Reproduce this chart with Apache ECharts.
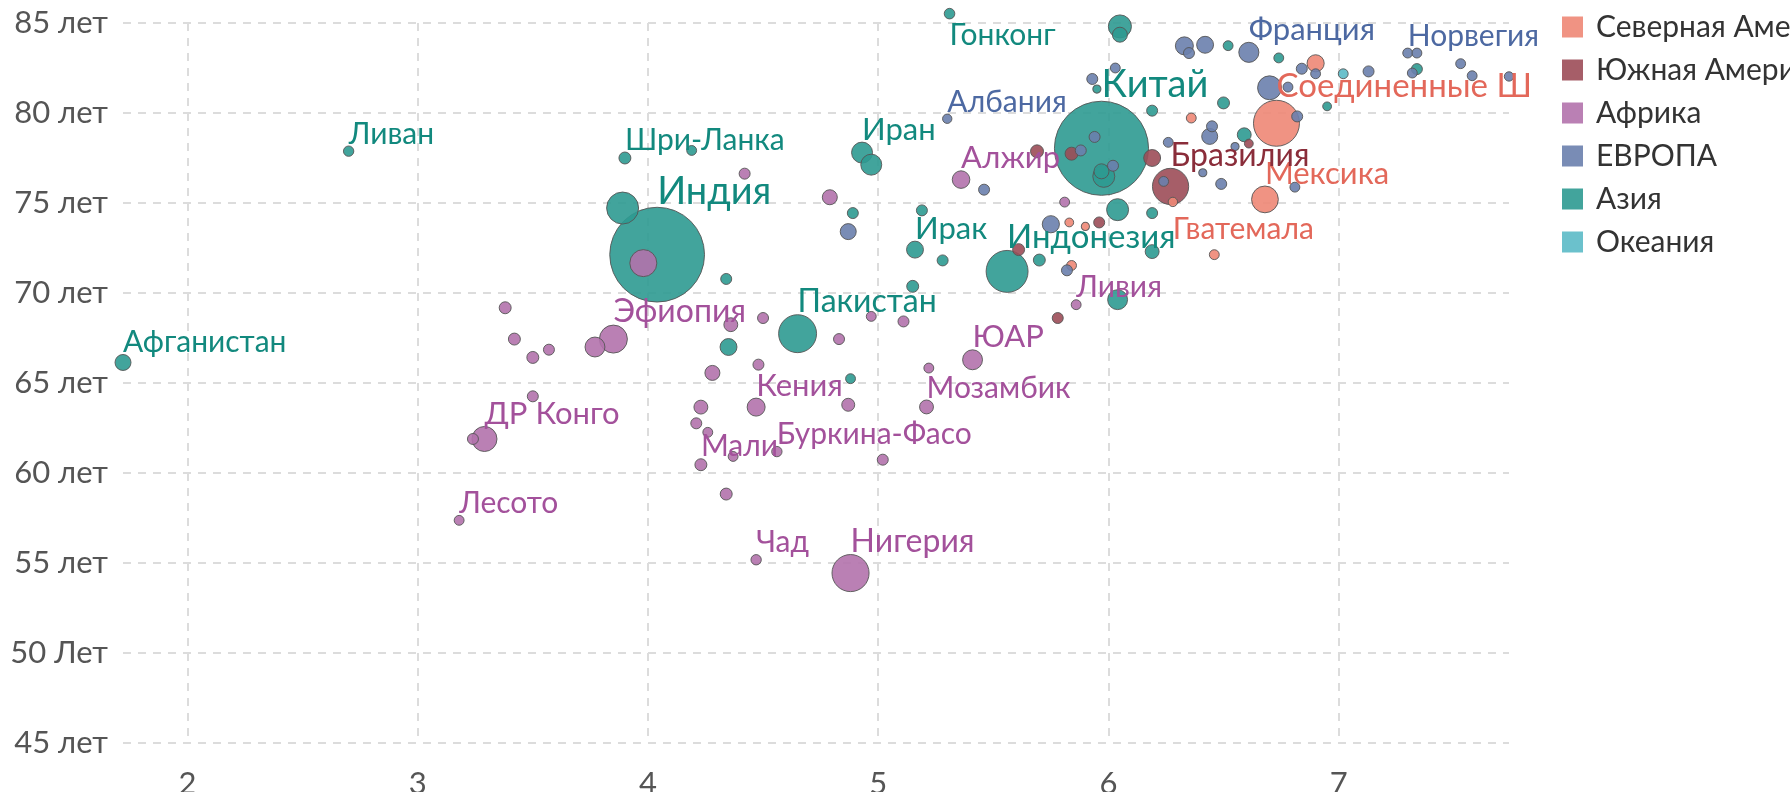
<!DOCTYPE html>
<html>
<head>
<meta charset="utf-8">
<title>Продолжительность жизни</title>
<script src="https://cdn.jsdelivr.net/npm/echarts@6/dist/echarts.min.js"></script>
<style>
  html, body { margin: 0; padding: 0; background: #fff; }
  #chart { width: 1790px; height: 792px; }
</style>
</head>
<body>
<div id="chart"></div>
<script>
// [x, продолжительность жизни, население (млн), подпись]
var northAmerica = [
  [6.73, 79.43, 306, 'Соединенные Штаты'],
  [6.68, 75.20, 90, 'Мексика'],
  [6.90, 82.76, 30, ''],
  [6.28, 75.06, 5, 'Гватемала'],
  [6.36, 79.72, 6, ''],
  [6.46, 72.13, 6, ''],
  [5.83, 73.92, 4, ''],
  [5.84, 71.53, 6, ''],
  [5.90, 73.70, 3, '']
];
var southAmerica = [
  [6.27, 75.92, 180, 'Бразилия'],
  [6.19, 77.50, 29, ''],
  [5.84, 77.74, 14, ''],
  [5.69, 77.87, 14, ''],
  [6.61, 78.30, 4, ''],
  [5.96, 73.92, 8.5, ''],
  [5.78, 68.61, 8.5, ''],
  [5.61, 72.41, 11, '']
];
var africa = [
  [4.88, 54.44, 190, 'Нигерия'],
  [3.85, 67.44, 100, 'Эфиопия'],
  [3.98, 71.66, 92, ''],
  [3.77, 67.00, 44, ''],
  [3.29, 61.89, 77, 'ДР Конго'],
  [3.24, 61.89, 8.5, ''],
  [3.18, 57.37, 6, 'Лесото'],
  [3.38, 69.18, 11, ''],
  [3.42, 67.44, 11, ''],
  [3.50, 66.42, 11, ''],
  [3.57, 66.85, 8.5, ''],
  [3.50, 64.26, 8.5, ''],
  [4.42, 76.63, 8.5, ''],
  [4.79, 75.32, 21, ''],
  [5.36, 76.30, 32, 'Алжир'],
  [5.81, 75.05, 6, ''],
  [4.50, 68.61, 8.5, ''],
  [4.36, 68.24, 17, ''],
  [4.28, 65.56, 21, ''],
  [4.48, 66.02, 8.5, ''],
  [4.47, 63.66, 34, 'Кения'],
  [4.23, 63.66, 17, ''],
  [4.21, 62.76, 8.5, ''],
  [4.26, 62.26, 6, ''],
  [4.23, 60.46, 11, 'Мали'],
  [4.37, 60.92, 6, ''],
  [4.34, 58.83, 11, ''],
  [4.56, 61.19, 7, 'Буркина-Фасо'],
  [4.47, 55.18, 7, 'Чад'],
  [4.83, 67.44, 8.5, ''],
  [4.97, 68.70, 6, ''],
  [5.11, 68.42, 8.5, ''],
  [4.87, 63.79, 14, ''],
  [5.02, 60.74, 8.5, ''],
  [5.41, 66.29, 44, 'ЮАР'],
  [5.22, 65.83, 6, ''],
  [5.21, 63.67, 17, 'Мозамбик'],
  [5.86, 69.35, 6, 'Ливия']
];
var europe = [
  [6.61, 83.37, 45, 'Франция'],
  [7.30, 83.33, 6, 'Норвегия'],
  [5.30, 79.68, 5, 'Албания'],
  [6.70, 81.40, 69, ''],
  [6.33, 83.73, 34, ''],
  [6.42, 83.79, 29, ''],
  [6.35, 83.33, 8.5, ''],
  [6.03, 82.50, 6, ''],
  [5.93, 81.89, 8.5, ''],
  [6.45, 79.26, 8.5, ''],
  [6.44, 78.70, 25, ''],
  [6.26, 78.37, 6, ''],
  [6.55, 78.14, 3, ''],
  [5.94, 78.67, 8.5, ''],
  [5.88, 77.92, 8.5, ''],
  [6.02, 77.07, 8.5, ''],
  [6.24, 76.20, 6, ''],
  [6.49, 76.06, 8.5, ''],
  [6.41, 76.68, 3, ''],
  [6.81, 75.88, 6, ''],
  [6.82, 79.81, 8.5, ''],
  [6.78, 81.44, 6, ''],
  [6.84, 82.46, 8.5, ''],
  [6.90, 82.18, 6, ''],
  [7.13, 82.31, 8.5, ''],
  [7.34, 83.33, 6, ''],
  [7.32, 82.22, 6, ''],
  [7.53, 82.74, 6, ''],
  [7.58, 82.07, 6, ''],
  [7.74, 82.03, 5, ''],
  [5.46, 75.74, 8.5, ''],
  [4.87, 73.41, 25, ''],
  [5.82, 71.26, 8.5, ''],
  [5.75, 73.82, 30, '']
];
var asia = [
  [5.97, 78.04, 1410, 'Китай'],
  [4.04, 72.13, 1430, 'Индия'],
  [5.56, 71.20, 250, 'Индонезия'],
  [4.65, 67.74, 200, 'Пакистан'],
  [4.93, 77.80, 50, 'Иран'],
  [4.97, 77.13, 50, ''],
  [5.16, 72.41, 29, 'Ирак'],
  [5.31, 85.52, 7.5, 'Гонконг'],
  [3.90, 77.50, 11, 'Шри-Ланка'],
  [2.70, 77.88, 7, 'Ливан'],
  [1.72, 66.14, 25, 'Афганистан'],
  [3.89, 74.72, 136, ''],
  [4.19, 77.92, 6, ''],
  [4.34, 70.78, 8.5, ''],
  [4.35, 67.00, 29, ''],
  [4.89, 74.44, 8.5, ''],
  [5.19, 74.59, 8.5, ''],
  [5.28, 71.81, 8.5, ''],
  [5.15, 70.37, 11, ''],
  [4.88, 65.24, 6, ''],
  [5.70, 71.83, 11, ''],
  [6.05, 84.81, 63, ''],
  [6.05, 84.35, 21, ''],
  [6.52, 83.74, 6, ''],
  [6.74, 83.06, 6, ''],
  [5.95, 81.33, 3, ''],
  [6.19, 80.13, 8.5, ''],
  [6.50, 80.56, 11, ''],
  [6.59, 78.79, 17, ''],
  [5.97, 76.76, 21, ''],
  [5.98, 76.48, 56, ''],
  [6.04, 74.63, 56, ''],
  [6.19, 74.44, 8.5, ''],
  [6.19, 72.30, 17, ''],
  [6.04, 69.63, 44, ''],
  [6.95, 80.37, 4, ''],
  [7.34, 82.44, 8.5, '']
];
var oceania = [
  [7.02, 82.18, 6, '']
];

var regionNames = ['Северная Америка', 'Южная Америка', 'Африка', 'ЕВРОПА', 'Азия', 'Океания'];
var yTicks = [45, 50, 55, 60, 65, 70, 75, 80, 85];
var yTickLabels = ['45 лет', '50 Лет', '55 лет', '60 лет', '65 лет', '70 лет', '75 лет', '80 лет', '85 лет'];

var regionData = [northAmerica, southAmerica, africa, europe, asia, oceania];
var regionColors = ['#EE8775', '#9C4D58', '#B272AC', '#6A80AD', '#2E9A91', '#5BBAC6'];
var labelColors = ['#E3685A', '#8A2D3A', '#A3519B', '#4D69A2', '#12897E', '#3AA3B1'];
var regionZ = [3, 2, 3, 3, 1, 3];

function bubbleSize(v) {
  return 4 + 2.4 * Math.sqrt(v[2]);
}

// a few labels sit off their usual place in the original
var labelOverrides = {
  'Гонконг': { position: 'bottom', distance: 1 },
  'Гватемала': { position: 'bottom', distance: 8 },
  // the original cuts this one off
  'Соединенные Штаты': { formatter: function (p) { return p.name.slice(0, 13); } }
};

var chart = echarts.init(document.getElementById('chart'));

var series = regionNames.map(function (name, i) {
  var pts = regionData[i].slice().sort(function (a, b) { return b[2] - a[2]; });
  return {
    name: name,
    type: 'scatter',
    z: regionZ[i],
    clip: false,
    symbolSize: bubbleSize,
    itemStyle: {
      color: regionColors[i],
      opacity: 0.9,
      borderColor: '#555',
      borderWidth: 1
    },
    data: pts.map(function (p) { return [p[0], p[1], p[2]]; })
  };
});

var labelItems = [];
regionData.forEach(function (pts, i) {
  pts.forEach(function (p) {
    if (!p[3]) return;
    var lbl = { color: labelColors[i], fontSize: Math.round(29 + bubbleSize(p) * 0.092) };
    labelItems.push({
      name: p[3],
      value: [p[0], p[1], p[2]],
      label: Object.assign(lbl, labelOverrides[p[3]] || {})
    });
  });
});

series.push({
  name: 'labels',
  type: 'scatter',
  z: 10,
  clip: false,
  silent: true,
  symbolSize: bubbleSize,
  itemStyle: { color: 'rgba(0,0,0,0)', borderWidth: 0 },
  label: {
    show: true,
    position: 'top',
    align: 'left',
    distance: -3,
    opacity: 1,
    fontFamily: 'Lato',
    formatter: '{b}'
  },
  data: labelItems
});

var option = {
  animation: false,
  backgroundColor: '#ffffff',
  textStyle: { fontFamily: 'Lato' },
  grid: { left: 123, right: 281, top: 23, bottom: 49, outerBoundsMode: 'none' },
  legend: {
    data: regionNames,
    orient: 'vertical',
    left: 1562,
    top: 12,
    padding: 0,
    icon: 'rect',
    itemWidth: 21,
    itemHeight: 21,
    itemGap: 13,
    itemStyle: { borderWidth: 0 },
    textStyle: { fontSize: 30, color: '#333', fontFamily: 'Lato', padding: [0, 0, 0, 8] }
  },
  xAxis: {
    type: 'value',
    min: 'dataMin',
    max: 'dataMax',
    axisLine: { show: false },
    axisTick: { show: false },
    axisLabel: {
      fontSize: 31, color: '#555', fontFamily: 'Lato', margin: 25,
      showMinLabel: false, showMaxLabel: false
    },
    splitLine: {
      show: true, showMinLine: false, showMaxLine: false,
      lineStyle: { color: '#dcdcdc', type: [8, 7], width: 2 }
    }
  },
  yAxis: {
    type: 'value',
    min: 45,
    max: 85,
    interval: 5,
    axisLine: { show: false },
    axisTick: { show: false },
    axisLabel: {
      fontSize: 31, color: '#555', fontFamily: 'Lato', margin: 15,
      formatter: function (v) { return yTickLabels[yTicks.indexOf(v)]; }
    },
    splitLine: {
      show: true,
      lineStyle: { color: '#dcdcdc', type: [8, 7], width: 2 }
    }
  },
  series: series
};

chart.setOption(option);
</script>
</body>
</html>
